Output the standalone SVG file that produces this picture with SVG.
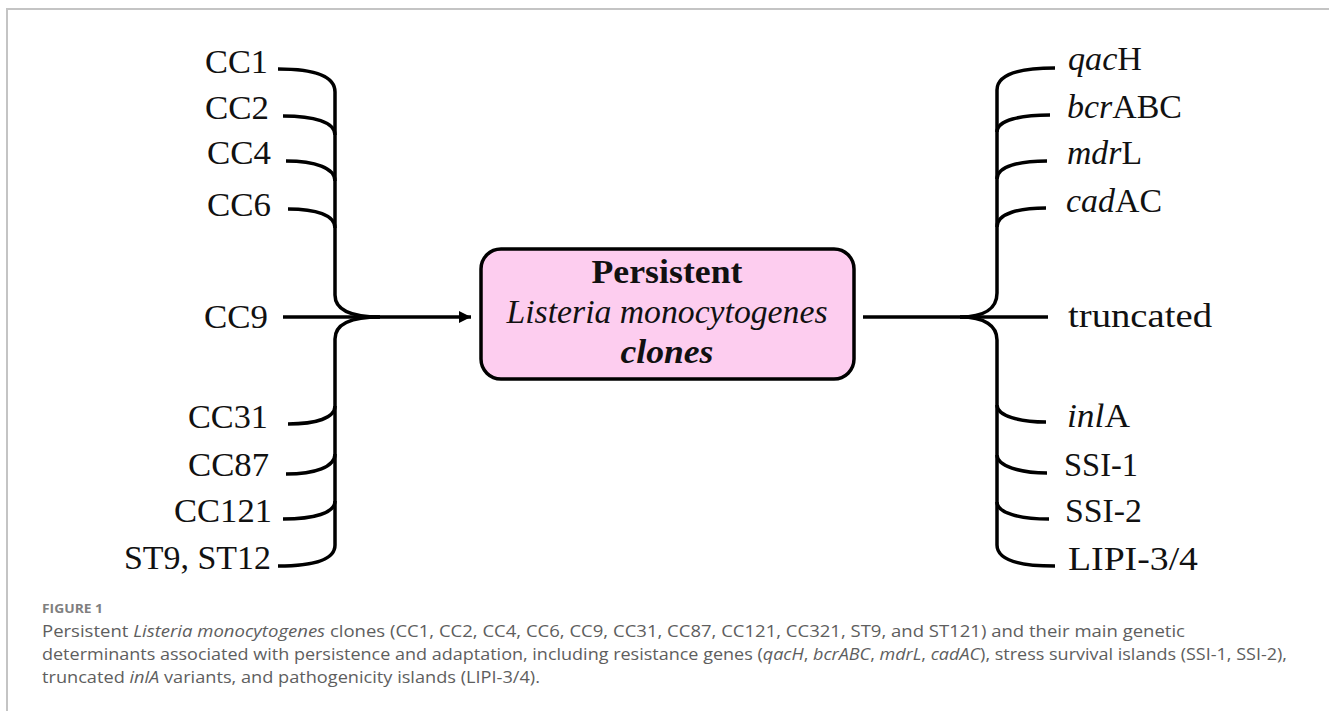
<svg xmlns="http://www.w3.org/2000/svg" width="1329" height="711" viewBox="0 0 1329 711">
  <style>
    .lbl { font-family: "Liberation Serif", "Times New Roman", serif; font-size: 33px; fill: #111; }
    .it { font-style: italic; }
    .bold { font-weight: bold; }
    .con { fill: none; stroke: #000; stroke-width: 3.5; stroke-linecap: butt; stroke-linejoin: round; }
    .cap { font-family: "Open Sans", "Liberation Sans", sans-serif; font-size: 17px; fill: #5e5e5e; }
    .fig { font-family: "Open Sans", "Liberation Sans", sans-serif; font-size: 13px; font-weight: bold; fill: #7f7f7f; }
    .frame { fill: none; stroke: #c4c4c4; stroke-width: 2; }
  </style>
  <defs>
    <marker id="arrow" viewBox="0 0 12 12" refX="12" refY="6" markerWidth="12" markerHeight="12" markerUnits="userSpaceOnUse" orient="auto">
      <path d="M0,0 L12,6 L0,12 Z" fill="#000"/>
    </marker>
  </defs>
  <rect width="1329" height="711" fill="#fff"/>
  <path class="frame" d="M7,711 L7,9 L1329,9"/>

  <g id="connectors">
    <!-- left tree -->
    <path class="con" d="M278,69 C312,69 335,75 335,92 L335,295 C335,309 350,317 380,317"/>
    <path class="con" d="M380,317 C350,317 335,325 335,339 L335,545 C335,560 312,566 278,566"/>
    <path class="con" d="M283,116 C314,116 335,122 335,135"/>
    <path class="con" d="M286,161 C315,161 335,168 335,181"/>
    <path class="con" d="M288,209 C316,209 335,215 335,228"/>
    <path class="con" d="M288,424 C316,424 335,418 335,406"/>
    <path class="con" d="M286,474 C315,474 335,467 335,454"/>
    <path class="con" d="M283,519 C314,519 335,513 335,501"/>
    <path class="con" d="M283,317 L471,317" marker-end="url(#arrow)"/>
    <!-- right tree -->
    <path class="con" d="M863,317 L1048,317"/>
    <path class="con" d="M1055,68 C1020,68 997,74 997,90 L997,293 C997,308 985,317 960,317"/>
    <path class="con" d="M960,317 C985,317 997,326 997,340 L997,545 C997,560 1020,566 1055,566"/>
    <path class="con" d="M1050,115 C1021,115 997,120 997,132"/>
    <path class="con" d="M1047,161 C1020,161 997,166 997,179"/>
    <path class="con" d="M1046,208 C1020,208 997,213 997,227"/>
    <path class="con" d="M997,405 C997,416 1020,422 1046,422"/>
    <path class="con" d="M997,455 C997,466 1020,473 1047,473"/>
    <path class="con" d="M997,502 C997,513 1020,519 1049,519"/>
  </g>

  <g id="node-center">
    <rect x="481" y="249" width="373" height="130" rx="20" ry="20" fill="#fdcdef" stroke="#000" stroke-width="3.5"/>
    <text class="lbl bold" x="667" y="283" text-anchor="middle" textLength="151" lengthAdjust="spacingAndGlyphs">Persistent</text>
    <text class="lbl it" x="667" y="323" text-anchor="middle" textLength="321" lengthAdjust="spacingAndGlyphs">Listeria monocytogenes</text>
    <text class="lbl bold it" x="667" y="363" text-anchor="middle" textLength="93" lengthAdjust="spacingAndGlyphs">clones</text>
  </g>

  <g id="node-cc1"><text class="lbl" x="268" y="73" text-anchor="end" textLength="63" lengthAdjust="spacingAndGlyphs">CC1</text></g>
  <g id="node-cc2"><text class="lbl" x="269" y="119" text-anchor="end" textLength="64" lengthAdjust="spacingAndGlyphs">CC2</text></g>
  <g id="node-cc4"><text class="lbl" x="271" y="164" text-anchor="end" textLength="64" lengthAdjust="spacingAndGlyphs">CC4</text></g>
  <g id="node-cc6"><text class="lbl" x="271" y="216" text-anchor="end" textLength="64" lengthAdjust="spacingAndGlyphs">CC6</text></g>
  <g id="node-cc9"><text class="lbl" x="268" y="328" text-anchor="end" textLength="64" lengthAdjust="spacingAndGlyphs">CC9</text></g>
  <g id="node-cc31"><text class="lbl" x="268" y="428" text-anchor="end" textLength="80" lengthAdjust="spacingAndGlyphs">CC31</text></g>
  <g id="node-cc87"><text class="lbl" x="269" y="476" text-anchor="end" textLength="81" lengthAdjust="spacingAndGlyphs">CC87</text></g>
  <g id="node-cc121"><text class="lbl" x="272" y="522" text-anchor="end" textLength="98" lengthAdjust="spacingAndGlyphs">CC121</text></g>
  <g id="node-st9-st12"><text class="lbl" x="271" y="569" text-anchor="end" textLength="147" lengthAdjust="spacingAndGlyphs">ST9, ST12</text></g>

  <g id="node-qach"><text class="lbl" x="1068" y="70" textLength="74" lengthAdjust="spacingAndGlyphs"><tspan class="it">qac</tspan>H</text></g>
  <g id="node-bcrabc"><text class="lbl" x="1067" y="118" textLength="115" lengthAdjust="spacingAndGlyphs"><tspan class="it">bcr</tspan>ABC</text></g>
  <g id="node-mdrl"><text class="lbl" x="1067" y="164" textLength="75" lengthAdjust="spacingAndGlyphs"><tspan class="it">mdr</tspan>L</text></g>
  <g id="node-cadac"><text class="lbl" x="1066" y="212" textLength="96" lengthAdjust="spacingAndGlyphs"><tspan class="it">cad</tspan>AC</text></g>
  <g id="node-truncated"><text class="lbl" x="1068" y="327" textLength="144" lengthAdjust="spacingAndGlyphs">truncated</text></g>
  <g id="node-inla"><text class="lbl" x="1067" y="427" textLength="63" lengthAdjust="spacingAndGlyphs"><tspan class="it">inl</tspan>A</text></g>
  <g id="node-ssi1"><text class="lbl" x="1064" y="476" textLength="74" lengthAdjust="spacingAndGlyphs">SSI-1</text></g>
  <g id="node-ssi2"><text class="lbl" x="1065" y="522" textLength="77" lengthAdjust="spacingAndGlyphs">SSI-2</text></g>
  <g id="node-lipi"><text class="lbl" x="1068" y="570" textLength="130" lengthAdjust="spacingAndGlyphs">LIPI-3/4</text></g>

  <g id="caption">
    <text class="fig" x="42" y="613" textLength="61" lengthAdjust="spacingAndGlyphs">FIGURE 1</text>
    <text class="cap" x="42" y="637" textLength="1143" lengthAdjust="spacingAndGlyphs">Persistent <tspan class="it">Listeria monocytogenes</tspan> clones (CC1, CC2, CC4, CC6, CC9, CC31, CC87, CC121, CC321, ST9, and ST121) and their main genetic</text>
    <text class="cap" x="42" y="660" textLength="1245" lengthAdjust="spacingAndGlyphs">determinants associated with persistence and adaptation, including resistance genes (<tspan class="it">qacH</tspan>, <tspan class="it">bcrABC</tspan>, <tspan class="it">mdrL</tspan>, <tspan class="it">cadAC</tspan>), stress survival islands (SSI-1, SSI-2),</text>
    <text class="cap" x="42" y="683" textLength="498" lengthAdjust="spacingAndGlyphs">truncated <tspan class="it">inlA</tspan> variants, and pathogenicity islands (LIPI-3/4).</text>
  </g>
</svg>
